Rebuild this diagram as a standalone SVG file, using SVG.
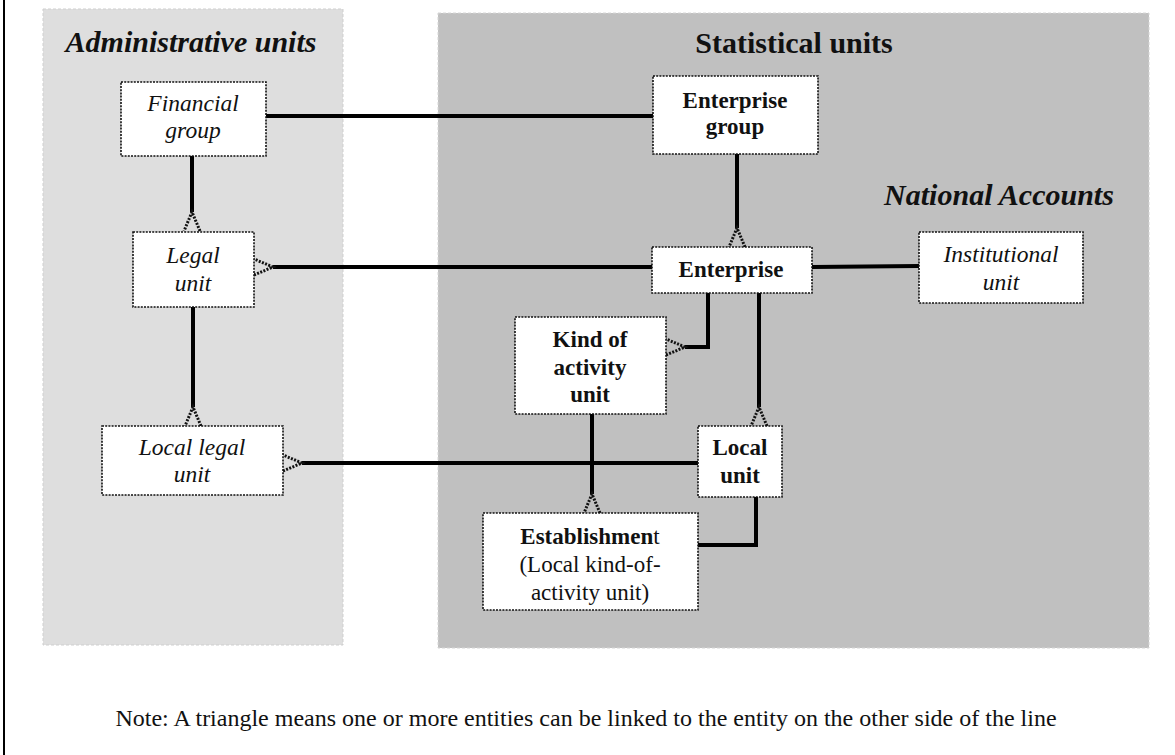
<svg xmlns="http://www.w3.org/2000/svg" width="1175" height="755" viewBox="0 0 1175 755">
  <style>
    .t { font-family: "Liberation Serif", "Times New Roman", serif; fill: #111; text-anchor: middle; }
    .node rect { fill: #fff; stroke: #111; stroke-width: 1.6; stroke-dasharray: 2 1.2; }
    .it { font-style: italic; font-size: 23.5px; }
    .bd { font-weight: bold; font-size: 23px; }
    .rg { font-size: 23px; }
    .note { font-size: 24px; }
    .title { font-weight: bold; font-size: 30px; }
    .link { fill: none; stroke: #000; stroke-width: 4; stroke-linejoin: miter; }
  </style>
  <defs>
    <!-- "many" end: dashed triangle whose base sits on the box edge -->
    <marker id="many" markerUnits="userSpaceOnUse" markerWidth="24" markerHeight="24" refX="0" refY="0" orient="auto" overflow="visible" viewBox="-2 -12 24 24">
      <path d="M19,-8 L0,0 L19,8" fill="none" stroke="#111" stroke-width="3" stroke-dasharray="2 1.4"/>
    </marker>
  </defs>

  <rect width="1175" height="755" fill="#fff"/>
  <line x1="4" y1="0" x2="4" y2="755" stroke="#000" stroke-width="2"/>

  <!-- panels -->
  <rect x="43" y="9" width="300" height="636" fill="#dedede" stroke="#cfcfcf" stroke-width="1" stroke-dasharray="3 2"/>
  <rect x="438" y="13" width="711" height="635" fill="#c0c0c0" stroke="#d6d6d6" stroke-width="1" stroke-dasharray="3 2"/>

  <text class="t title" x="191" y="52" font-style="italic">Administrative units</text>
  <text class="t title" x="794" y="53">Statistical units</text>
  <text class="t title" x="999" y="205" font-style="italic" font-size="29">National Accounts</text>

  <!-- connectors -->
  <g id="connectors">
    <line class="link" x1="266" y1="116" x2="653" y2="116"/>
    <line class="link" x1="192" y1="156" x2="192" y2="212" marker-end="url(#many)"/>
    <line class="link" x1="652" y1="267" x2="273" y2="267" marker-end="url(#many)"/>
    <line class="link" x1="737" y1="154" x2="737" y2="228" marker-end="url(#many)"/>
    <line class="link" x1="812" y1="267" x2="919" y2="266"/>
    <polyline class="link" points="708,293 708,347 685,347" marker-end="url(#many)"/>
    <line class="link" x1="759" y1="293" x2="759" y2="407" marker-end="url(#many)"/>
    <line class="link" x1="193" y1="307" x2="193" y2="407" marker-end="url(#many)"/>
    <line class="link" x1="698" y1="463" x2="302" y2="463" marker-end="url(#many)"/>
    <line class="link" x1="592" y1="414" x2="592" y2="494" marker-end="url(#many)"/>
    <polyline class="link" points="756,497 756,545 698,545"/>
  </g>

  <!-- administrative units -->
  <g id="financial-group" class="node">
    <rect x="121" y="82" width="145" height="74"/>
    <text class="t it" x="193" y="111">Financial</text>
    <text class="t it" x="193" y="138">group</text>
  </g>
  <g id="legal-unit" class="node">
    <rect x="133" y="232" width="121" height="75"/>
    <text class="t it" x="193" y="263">Legal</text>
    <text class="t it" x="193" y="291">unit</text>
  </g>
  <g id="local-legal-unit" class="node">
    <rect x="102" y="426" width="181" height="69"/>
    <text class="t it" x="192" y="455">Local legal</text>
    <text class="t it" x="192" y="482">unit</text>
  </g>

  <!-- statistical units -->
  <g id="enterprise-group" class="node">
    <rect x="653" y="76" width="165" height="78"/>
    <text class="t bd" x="735" y="108">Enterprise</text>
    <text class="t bd" x="735" y="134">group</text>
  </g>
  <g id="enterprise" class="node">
    <rect x="652" y="247" width="160" height="46"/>
    <text class="t bd" x="731" y="277">Enterprise</text>
  </g>
  <g id="kind-of-activity-unit" class="node">
    <rect x="515" y="317" width="151" height="97"/>
    <text class="t bd" x="590" y="347">Kind of</text>
    <text class="t bd" x="590" y="375">activity</text>
    <text class="t bd" x="590" y="402">unit</text>
  </g>
  <g id="local-unit" class="node">
    <rect x="698" y="426" width="84" height="71"/>
    <text class="t bd" x="740" y="455">Local</text>
    <text class="t bd" x="740" y="483">unit</text>
  </g>
  <g id="establishment" class="node">
    <rect x="483" y="513" width="215" height="97"/>
    <text class="t bd" x="590" y="544">Establishmen<tspan font-weight="normal">t</tspan></text>
    <text class="t rg" x="590" y="572">(Local kind-of-</text>
    <text class="t rg" x="590" y="600">activity unit)</text>
  </g>

  <!-- national accounts -->
  <g id="institutional-unit" class="node">
    <rect x="919" y="232" width="164" height="71"/>
    <text class="t it" x="1001" y="262">Institutional</text>
    <text class="t it" x="1001" y="290">unit</text>
  </g>

  <text class="t note" x="586" y="726">Note: A triangle means one or more entities can be linked to the entity on the other side of the line</text>
</svg>
